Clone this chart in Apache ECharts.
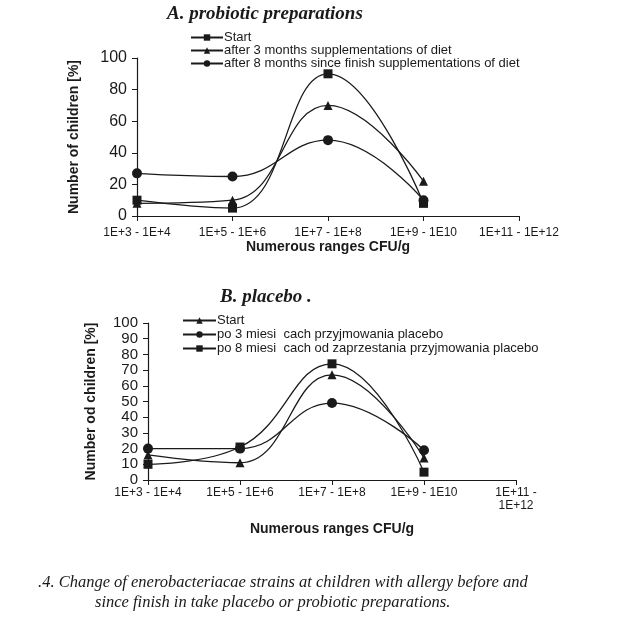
<!DOCTYPE html>
<html><head><meta charset="utf-8">
<script src="https://cdn.jsdelivr.net/npm/echarts@6/dist/echarts.min.js"></script>
<style>html,body{margin:0;background:#fff}#c{width:641px;height:635px}</style>
</head><body><div id="c"></div>
<script>
// Category labels
const categoriesA = ['1E+3 - 1E+4', '1E+5 - 1E+6', '1E+7 - 1E+8', '1E+9 - 1E10', '1E+11 - 1E+12'];
const categoriesB = ['1E+3 - 1E+4', '1E+5 - 1E+6', '1E+7 - 1E+8', '1E+9 - 1E10', '1E+11 -\n1E+12'];
// Panel A: probiotic preparations
const namesA = ['Start', 'after 3 months supplementations of diet', 'after 8 months since finish supplementations of diet'];
const aStart = [10, 5, 90, 8];
const aAfter3 = [8, 10, 70, 22];
const aAfter8 = [27, 25, 48, 10];
// Panel B: placebo
const namesB = ['Start ', 'po 3 miesi  cach przyjmowania placebo', 'po 8 miesi  cach od zaprzestania przyjmowania placebo'];
const bStart = [16, 11, 67, 14];
const bPo3 = [20, 20, 49, 19];
const bPo8 = [10, 21, 74, 5];

const chart = echarts.init(document.getElementById('c'));
const sans = 'Liberation Sans, Arial, sans-serif';
const serif = 'Liberation Serif, Times New Roman, serif';
const ink = '#1a1a1a';

function line(name, data, symbol, gi, size) {
  return {
    name: name, type: 'line', xAxisIndex: gi, yAxisIndex: gi, data: data,
    smooth: 0.45, symbol: symbol, symbolSize: size || 9,
    lineStyle: { color: ink, width: 1.3 },
    itemStyle: { color: ink },
    clip: false
  };
}
function xAx(gi, cats, margin) {
  return {
    type: 'category', gridIndex: gi, data: cats, boundaryGap: false,
    axisLine: { lineStyle: { color: ink, width: 1.2 } },
    axisTick: { show: true, length: 5, lineStyle: { color: ink } },
    axisLabel: { color: ink, fontFamily: sans, fontSize: 12, margin: margin, interval: 0, lineHeight: 13 },
    name: 'Numerous ranges CFU/g', nameLocation: 'middle',
    nameTextStyle: { color: ink, fontFamily: sans, fontSize: 14, fontWeight: 'bold' }
  };
}
function yAx(gi, interval, fs, name, gap) {
  return {
    type: 'value', gridIndex: gi, min: 0, max: 100, interval: interval,
    splitLine: { show: false },
    axisLine: { show: true, lineStyle: { color: ink, width: 1.2 } },
    axisTick: { show: true, length: 5, lineStyle: { color: ink } },
    axisLabel: { color: ink, fontFamily: sans, fontSize: fs, margin: 10 },
    name: name, nameLocation: 'middle', nameGap: gap,
    nameTextStyle: { color: ink, fontFamily: sans, fontSize: 14, fontWeight: 'bold' }
  };
}

chart.setOption({
  backgroundColor: '#fff',
  animation: false,
  title: [
    { text: 'A. probiotic preparations', left: 162, top: 0,
      textStyle: { fontFamily: serif, fontStyle: 'italic', fontWeight: 'bold', fontSize: 19, color: ink } },
    { text: 'B. placebo .', left: 215, top: 283,
      textStyle: { fontFamily: serif, fontStyle: 'italic', fontWeight: 'bold', fontSize: 19, color: ink } }
  ],
  legend: [
    { data: namesA, orient: 'vertical', left: 185, top: 26, itemGap: 0, itemWidth: 32, itemHeight: 8,
      textStyle: { fontFamily: sans, fontSize: 13, color: ink, lineHeight: 11, padding: [0,0,0,-4] } },
    { data: namesB, orient: 'vertical', left: 177, top: 309, itemGap: 1, itemWidth: 33, itemHeight: 8,
      textStyle: { fontFamily: sans, fontSize: 13, color: ink, lineHeight: 12, padding: [0,0,0,-4] } }
  ],
  grid: [
    { left: 137, right: 122, top: 58, bottom: 419 },
    { left: 148, right: 125, top: 323, bottom: 155 }
  ],
  xAxis: [ Object.assign(xAx(0, categoriesA, 10), { nameGap: 22 }),
           Object.assign(xAx(1, categoriesB, 6), { nameGap: 42 }) ],
  yAxis: [ yAx(0, 20, 16, 'Number of children [%]', 56),
           yAx(1, 10, 15, 'Number od children [%]', 50) ],
  series: [
    line(namesA[0], aStart, 'rect', 0),
    line(namesA[1], aAfter3, 'triangle', 0),
    line(namesA[2], aAfter8, 'circle', 0, 10),
    line(namesB[0], bStart, 'triangle', 1),
    line(namesB[1], bPo3, 'circle', 1, 10),
    line(namesB[2], bPo8, 'rect', 1)
  ],
  graphic: [
    { type: 'text', left: 38, top: 574,
      style: { text: '.4. Change of enerobacteriacae strains at children with allergy before and',
        font: 'italic 16.5px ' + serif, fill: ink } },
    { type: 'text', left: 95, top: 594,
      style: { text: 'since finish in take placebo or probiotic preparations.',
        font: 'italic 16.5px ' + serif, fill: ink } }
  ]
});
</script></body></html>
